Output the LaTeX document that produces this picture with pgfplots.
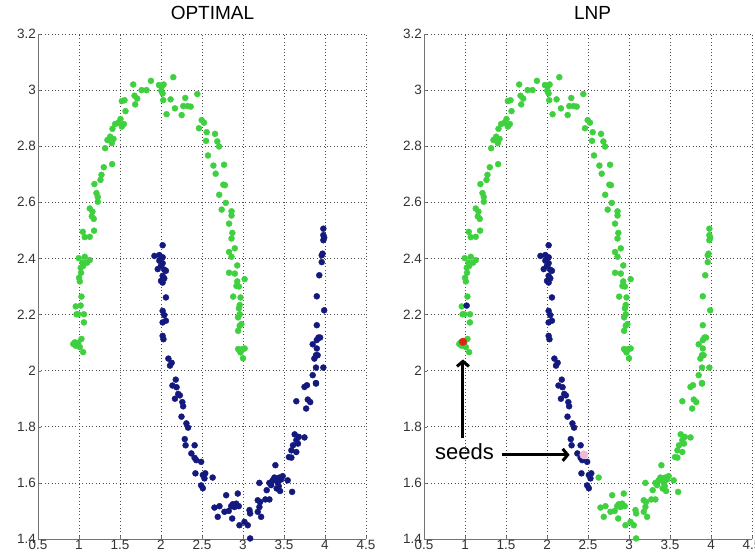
\documentclass[border=0pt]{standalone}
\usepackage{fontspec}
\setmainfont{Liberation Sans}
\usepackage{pgfplots}
\usepackage{pgfplotstable}
\usetikzlibrary{arrows.meta}
\pgfplotsset{compat=1.18}

\definecolor{moongreen}{RGB}{62,208,62}
\definecolor{moonblue}{RGB}{20,25,125}
\definecolor{seedred}{RGB}{215,40,25}
\definecolor{seedpink}{RGB}{240,185,215}

% upper moon
\pgfplotstableread{
x y
0.93 2.095
0.95 2.101
0.96 2.089
0.99 2.099
1.01 2.084
1.03 2.113
1.05 2.066
1.06 2.172
1.06 2.201
0.99 2.201
0.97 2.201
0.96 2.229
1.03 2.264
1.01 2.318
1.001 2.331
1.025 2.349
1.021 2.367
1.05 2.373
0.997 2.401
1.070 2.406
1.099 2.385
1.131 2.394
1.042 2.385
1.046 2.495
1.070 2.476
1.131 2.477
1.184 2.499
1.131 2.578
1.164 2.567
1.180 2.541
1.156 2.550
1.188 2.665
1.213 2.633
1.229 2.619
1.229 2.602
1.262 2.680
1.274 2.698
1.302 2.725
1.319 2.793
1.347 2.822
1.380 2.834
1.400 2.811
1.421 2.826
1.404 2.736
1.408 2.862
1.441 2.879
1.482 2.884
1.506 2.897
1.522 2.870
1.547 2.879
1.567 2.925
1.522 2.961
1.555 2.964
1.661 3.020
1.677 2.980
1.685 2.949
1.710 2.970
1.763 3.000
1.824 3.000
1.877 3.033
1.975 3.018
2.011 3.014
2.032 3.020
2.003 2.998
2.019 2.988
2.027 2.964
2.068 2.914
2.117 2.967
2.150 3.046
2.170 2.935
2.252 2.911
2.272 2.943
2.296 2.972
2.325 2.943
2.362 2.941
2.443 2.986
2.463 2.864
2.496 2.893
2.524 2.884
2.557 2.850
2.549 2.819
2.573 2.767
2.639 2.731
2.659 2.844
2.687 2.817
2.708 2.799
2.769 2.734
2.667 2.702
2.76 2.663
2.78 2.661
2.71 2.627
2.79 2.598
2.74 2.574
2.86 2.568
2.86 2.553
2.83 2.524
2.87 2.491
2.86 2.471
2.90 2.436
2.83 2.423
2.86 2.406
2.93 2.375
2.83 2.349
2.90 2.346
3.02 2.326
2.93 2.318
2.95 2.300
2.92 2.302
2.88 2.264
2.97 2.261
2.96 2.234
2.95 2.222
2.96 2.201
2.94 2.190
2.98 2.166
2.96 2.160
2.94 2.142
2.94 2.077
2.96 2.071
2.99 2.077
3.02 2.079
2.97 2.065
3.00 2.044
}\upper

% lower moon, left arm
\pgfplotstableread{
x y
2.02 2.447
1.92 2.409
1.98 2.412
2.02 2.404
1.98 2.392
2.02 2.383
2.00 2.374
2.04 2.360
2.06 2.356
1.96 2.362
2.02 2.338
2.04 2.329
2.00 2.320
2.02 2.314
2.06 2.261
2.02 2.213
2.04 2.198
2.02 2.172
2.06 2.178
2.02 2.124
2.03 2.112
2.09 2.043
2.13 2.028
2.11 2.018
2.18 1.968
2.14 1.947
2.19 1.941
2.21 1.917
2.17 1.900
2.23 1.912
2.26 1.888
2.27 1.873
2.25 1.836
2.31 1.812
2.33 1.797
2.29 1.756
2.30 1.734
2.37 1.705
2.41 1.734
2.41 1.689
2.43 1.681
2.49 1.675
2.42 1.634
2.51 1.628
2.54 1.634
2.53 1.616
2.49 1.591
2.51 1.581
}\lowerleft

% lower moon, bottom and right arm
\pgfplotstableread{
x y
2.63 1.619
2.652 1.512
2.713 1.517
2.692 1.479
2.774 1.497
2.826 1.500
2.795 1.556
2.856 1.517
2.875 1.524
2.896 1.514
2.917 1.526
2.948 1.517
2.936 1.562
2.868 1.473
2.957 1.449
3.018 1.461
3.058 1.449
3.087 1.402
3.079 1.503
3.087 1.491
3.180 1.497
3.200 1.514
3.209 1.532
3.180 1.538
3.221 1.479
3.200 1.600
3.273 1.541
3.289 1.574
3.322 1.541
3.343 1.592
3.322 1.600
3.383 1.619
3.362 1.609
3.404 1.612
3.423 1.600
3.436 1.588
3.395 1.663
3.444 1.619
3.465 1.612
3.484 1.624
3.452 1.571
3.411 1.580
3.545 1.609
3.599 1.568
3.63 1.773
3.68 1.764
3.75 1.762
3.65 1.752
3.67 1.740
3.61 1.734
3.59 1.716
3.65 1.710
3.56 1.692
3.59 1.690
3.65 1.891
3.75 1.942
3.78 1.948
3.89 1.954
3.79 1.897
3.82 1.888
3.77 1.865
3.85 1.984
3.89 1.956
3.87 2.043
3.89 2.011
3.98 2.011
3.90 2.079
3.89 2.055
3.91 2.055
3.92 2.118
3.94 2.118
3.90 2.109
3.85 2.094
3.90 2.162
3.99 2.215
3.90 2.265
3.93 2.340
3.96 2.387
3.96 2.411
3.97 2.417
3.98 2.465
3.99 2.474
3.98 2.483
3.98 2.506
}\lowerright

\pgfplotsset{
  moons/.style={
    scale only axis, width=328pt, height=505pt,
    xmin=0.5, xmax=4.5, ymin=1.4, ymax=3.2,
    xtick={0.5,1,1.5,2,2.5,3,3.5,4,4.5},
    ytick={1.4,1.6,1.8,2,2.2,2.4,2.6,2.8,3,3.2},
    axis x line*=bottom, axis y line*=left,
    axis line style={black!55, line width=0.9pt},
    grid=major,
    grid style={black!70, line width=0.75pt, dash pattern=on 0.8pt off 2.6pt},
    tick align=inside, major tick length=3pt,
    tick style={black!55},
    tick label style={font=\fontsize{13.5}{13.5}\selectfont, text=black!80,
      /pgf/number format/assume math mode=true},
    xticklabel style={inner sep=1pt},
    yticklabel style={inner sep=2pt},
    title style={anchor=base, yshift=8pt, font=\fontsize{19}{19}\selectfont},
  },
  dot/.style={only marks, mark=*, mark size=3pt,
    mark options={draw=#1, fill=#1}},
}

\begin{document}
\begin{tikzpicture}
\useasboundingbox (0,0) rectangle (755pt,556pt);

\begin{axis}[moons, at={(38pt,17pt)}, anchor=south west,
  title={OPTIMAL}, title style={at={(0.532,1)}}]
\addplot[dot=moongreen] table[x=x,y=y] {\upper};
\addplot[dot=moongreen] coordinates {(1.02,2.232)};
\addplot[dot=moonblue] table[x=x,y=y] {\lowerleft};
\addplot[dot=moonblue] table[x=x,y=y] {\lowerright};
\end{axis}

\begin{axis}[moons, at={(424pt,17pt)}, anchor=south west,
  title={LNP}, title style={at={(0.514,1)}}]
\addplot[dot=moongreen] table[x=x,y=y] {\upper};
\addplot[dot=moongreen] table[x=x,y=y] {\lowerright};
\addplot[dot=moonblue] table[x=x,y=y] {\lowerleft};
\addplot[dot=moonblue] coordinates {(1.02,2.232)};
% seeds
\addplot[only marks, mark=*, mark size=3.8pt,
  mark options={draw=seedred, fill=seedred}] coordinates {(0.975,2.103)};
\addplot[only marks, mark=*, mark size=4.2pt,
  mark options={draw=seedpink, fill=seedpink}] coordinates {(2.45,1.70)};
\node[anchor=base, font=\fontsize{22}{22}\selectfont]
  at (axis cs:0.994,1.684) {seeds};
\draw[line width=3pt, -{Straight Barb[length=5pt,width=12pt]}]
  (axis cs:0.975,1.76) -- (axis cs:0.975,2.04);
\draw[line width=3pt, -{Straight Barb[length=5pt,width=12pt]}]
  (axis cs:1.455,1.70) -- (axis cs:2.276,1.70);
\end{axis}
\end{tikzpicture}
\end{document}
